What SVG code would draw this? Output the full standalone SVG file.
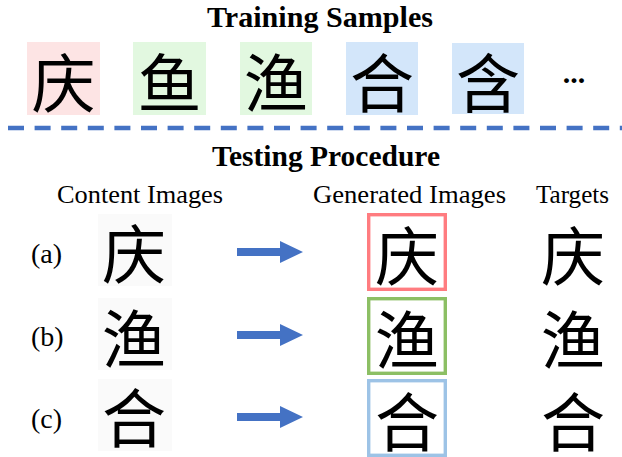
<svg xmlns="http://www.w3.org/2000/svg" width="622" height="457" viewBox="0 0 622 457">
  <defs>
    <style>
      .title { font-family: "Liberation Serif", "Times New Roman", serif; font-weight: bold; font-size: 30px; fill: #000; }
      .head { font-family: "Liberation Serif", "Times New Roman", serif; font-size: 25px; fill: #000; }
      .lbl { font-family: "Liberation Serif", "Times New Roman", serif; font-size: 28px; fill: #000; }
      .han { font-family: "Noto Sans CJK SC", "Noto Sans CJK JP", sans-serif; font-size: 64px; fill: #000; text-anchor: middle; dominant-baseline: central; }
      .pink { fill: #fde4e4; }
      .green { fill: #e2f8e0; }
      .blue { fill: #d3e6fa; }
      .paper { fill: #fafafa; }
      .gen { fill: #fff; stroke-width: 3.4; }
      .arrow { fill: #4472c4; }
      .sep { stroke: #4472c4; stroke-width: 4.5; stroke-dasharray: 16 10.6; fill: none; }
    </style>
    <path id="arrowShape" d="M0,-4 L43,-4 L43,-11 L66,0 L43,11 L43,4 L0,4 Z"/>
  </defs>
  <rect width="622" height="457" fill="#fff"/>

  <!-- training set -->
  <text class="title" x="320" y="27" text-anchor="middle" textLength="226" lengthAdjust="spacingAndGlyphs">Training Samples</text>
  <g id="train-1"><rect class="pink" x="27" y="42" width="73" height="73"/><text class="han" x="63.5" y="78.5">庆</text></g>
  <g id="train-2"><rect class="green" x="133" y="42" width="73" height="73"/><text class="han" x="169.5" y="78.5">鱼</text></g>
  <g id="train-3"><rect class="green" x="240" y="42" width="72" height="73"/><text class="han" x="276" y="78.5">渔</text></g>
  <g id="train-4"><rect class="blue" x="346" y="42" width="72" height="73"/><text class="han" x="382" y="78.5">合</text></g>
  <g id="train-5"><rect class="blue" x="452" y="43" width="72" height="71"/><text class="han" x="488" y="78.5">含</text></g>
  <text class="title" x="574" y="83" text-anchor="middle" font-weight="normal" font-size="32">...</text>

  <line class="sep" x1="8" y1="128" x2="622" y2="128"/>

  <!-- testing set -->
  <text class="title" x="326" y="166" text-anchor="middle" textLength="228" lengthAdjust="spacingAndGlyphs">Testing Procedure</text>
  <text class="head" x="57" y="203" textLength="166" lengthAdjust="spacingAndGlyphs">Content Images</text>
  <text class="head" x="313" y="203" textLength="193" lengthAdjust="spacingAndGlyphs">Generated Images</text>
  <text class="head" x="536" y="203" textLength="73" lengthAdjust="spacingAndGlyphs">Targets</text>

  <text class="lbl" x="31" y="263">(a)</text>
  <text class="lbl" x="31" y="346">(b)</text>
  <text class="lbl" x="31" y="428">(c)</text>

  <g id="content-a"><rect class="paper" x="98" y="214" width="74" height="72"/><text class="han" x="134" y="250">庆</text></g>
  <g id="content-b"><rect class="paper" x="98" y="298" width="74" height="72"/><text class="han" x="134" y="335">渔</text></g>
  <g id="content-c"><rect class="paper" x="98" y="379" width="74" height="72"/><text class="han" x="134" y="414">合</text></g>

  <g id="gen-a"><rect class="gen" x="368.7" y="214.7" width="76.6" height="74.6" stroke="#ff7c80"/><text class="han" x="407" y="252" font-size="58">庆</text></g>
  <g id="gen-b"><rect class="gen" x="368.7" y="298.7" width="76.6" height="74.6" stroke="#8cbf64"/><text class="han" x="407" y="336" font-size="58">渔</text></g>
  <g id="gen-c"><rect class="gen" x="368.7" y="380.7" width="76.6" height="74.6" stroke="#9dc3e6"/><text class="han" x="407" y="418" font-size="58">合</text></g>

  <g id="target-a"><text class="han" x="573" y="252">庆</text></g>
  <g id="target-b"><text class="han" x="573" y="336">渔</text></g>
  <g id="target-c"><text class="han" x="573" y="418">合</text></g>

  <g id="connectors">
    <use href="#arrowShape" class="arrow" x="237" y="252"/>
    <use href="#arrowShape" class="arrow" x="237" y="335"/>
    <use href="#arrowShape" class="arrow" x="237" y="417"/>
  </g>
</svg>
